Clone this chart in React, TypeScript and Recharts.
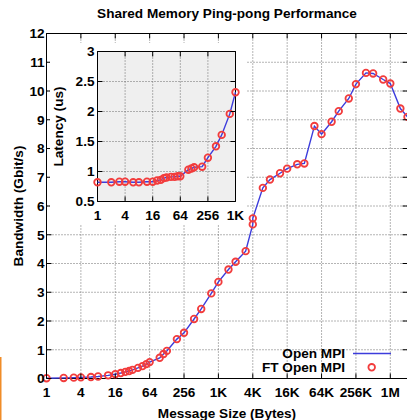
import { LineChart, Line, XAxis, YAxis, CartesianGrid, ReferenceArea } from 'recharts';

// message sizes in bytes (4K shows up twice in the original run)
const sizes = [
  1, 2, 3, 4, 6, 8, 12, 16, 20, 24, 28, 32, 40, 48, 56, 64, 96, 112, 128, 192, 256, 384, 512, 768, 1024,
  1536, 2048, 3072, 4096, 4096, 6144, 8192, 12288, 16384, 24576, 32768, 49152, 65536, 98304, 131072,
  196608, 262144, 393216, 524288, 786432, 1048576, 1572864, 2097152,
];

// bandwidth, Gbit/s
const openMpiBw = [
  0.01, 0.02, 0.03, 0.04, 0.05, 0.07, 0.11, 0.15, 0.19, 0.23, 0.26, 0.3, 0.37, 0.43, 0.5, 0.57, 0.72, 0.85, 0.96,
  1.37, 1.59, 2.07, 2.42, 2.96, 3.36, 3.79, 4.06, 4.43, 5.36, 5.57, 6.63, 6.92, 7.14, 7.3, 7.45, 7.48, 8.78, 8.5,
  8.93, 9.3, 9.74, 10.24, 10.63, 10.61, 10.4, 10.26, 9.39, 9.1,
];
const ftOpenMpiBw = [
  0.01, 0.02, 0.03, 0.04, 0.05, 0.07, 0.11, 0.15, 0.19, 0.23, 0.26, 0.3, 0.37, 0.43, 0.5, 0.57, 0.72, 0.85, 0.96,
  1.37, 1.59, 2.07, 2.42, 2.96, 3.36, 3.79, 4.06, 4.43, 5.36, 5.57, 6.63, 6.92, 7.14, 7.3, 7.45, 7.48, 8.78, 8.5,
  8.93, 9.3, 9.74, 10.24, 10.63, 10.61, 10.4, 10.26, 9.39, 9.1,
];

// inset: latency for the small messages (1 .. 1K)
const latencySizes = [1, 2, 3, 4, 6, 8, 12, 16, 20, 24, 28, 32, 40, 48, 56, 64, 96, 112, 128, 192, 256, 384, 512, 768, 1024];
const openMpiLat = [
  0.82, 0.82, 0.83, 0.83, 0.82, 0.82, 0.83, 0.83, 0.85, 0.86, 0.89, 0.9, 0.91, 0.91, 0.92, 0.92, 1.03, 1.05, 1.07,
  1.08, 1.23, 1.42, 1.61, 1.96, 2.32,
];
const ftOpenMpiLat = [
  0.82, 0.82, 0.83, 0.83, 0.82, 0.82, 0.83, 0.83, 0.85, 0.86, 0.89, 0.9, 0.91, 0.91, 0.92, 0.92, 1.03, 1.05, 1.07,
  1.08, 1.23, 1.42, 1.61, 1.96, 2.32,
];

const sizeTicks = [1, 4, 16, 64, 256, 1024, 4096, 16384, 65536, 262144, 1048576];
const latencySizeTicks = [1, 4, 16, 64, 256, 1024];
const bwTicks = [0, 1, 2, 3, 4, 5, 6, 7, 8, 9, 10, 11, 12];
const latTicks = [0.5, 1, 1.5, 2, 2.5, 3];

const bwData = sizes.map((size, i) => ({ size, open: openMpiBw[i], ft: ftOpenMpiBw[i] }));
const latData = latencySizes.map((size, i) => ({ size, open: openMpiLat[i], ft: ftOpenMpiLat[i] }));

const BLUE = '#3c3cdc';
const RED = '#f23c3c';
const font = { fontFamily: '"Liberation Sans", Arial, Helvetica, sans-serif', fontWeight: 700, fontSize: 13.6, fill: '#000' };

const fmtSize = (v) => (v >= 1048576 ? `${v / 1048576}M` : v >= 1024 ? `${v / 1024}K` : `${v}`);

// x tick: label under the axis, short ticks pointing inward at bottom and top
const xTick = (top) => (props) => {
  const { x, y, payload } = props;
  return (
    <g>
      <line x1={x} x2={x} y1={y} y2={y - 5} stroke="#000" />
      <line x1={x} x2={x} y1={top} y2={top + 5} stroke="#000" />
      <text x={x} y={y + 18} textAnchor="middle" style={font}>{fmtSize(payload.value)}</text>
    </g>
  );
};

const yTick = (gap, right) => (props) => {
  const { x, y, payload } = props;
  return (
    <g>
      <line x1={x + gap} x2={x + gap + 5} y1={y} y2={y} stroke="#000" />
      <line x1={right} x2={right - 5} y1={y} y2={y} stroke="#000" />
      <text x={x} y={y} dy="0.36em" textAnchor="end" style={font}>{payload.value}</text>
    </g>
  );
};

// axis title at a fixed spot; rot is the rotation in degrees
function AxisTitle({ px, py, rot, text }) {
  return (
    <text
      x={px}
      y={py}
      transform={rot ? `rotate(${rot} ${px} ${py})` : undefined}
      textAnchor="middle"
      dominantBaseline="central"
      style={font}
    >
      {text}
    </text>
  );
}

const ftDot = { r: 3.3, stroke: RED, strokeWidth: 1.8, fill: 'none' };

export default function App() {
  return (
    <div style={{ position: 'absolute', left: 0, top: 0, width: 407, height: 420, overflow: 'hidden', background: '#fff' }}>
      <div style={{ position: 'absolute', left: 0, top: 0 }}>
        <LineChart width={410} height={420} data={bwData} margin={{ top: 33.5, right: 2.5, bottom: 0, left: 0 }}>
          <CartesianGrid stroke="#6a6a6a" strokeDasharray="1 2" />
          <XAxis
            dataKey="size"
            type="number"
            scale="log"
            domain={[1, 2097152]}
            ticks={sizeTicks}
            interval={0}
            height={41.5}
            tickSize={0}
            tickMargin={0}
            tickLine={false}
            axisLine={false}
            tick={xTick(33.5)}
            label={<AxisTitle px={227} py={413} text="Message Size (Bytes)" />}
          />
          <YAxis
            type="number"
            domain={[0, 12]}
            ticks={bwTicks}
            interval={0}
            width={46.5}
            tickSize={0}
            tickMargin={2}
            tickLine={false}
            axisLine={false}
            tick={yTick(2, 407.5)}
            label={<AxisTitle px={18} py={206} rot={-90} text="Bandwidth (Gbit/s)" />}
          />
          <ReferenceArea x1={1} x2={2097152} y1={0} y2={12} fill="none" stroke="#000" strokeWidth={1} />
          <Line dataKey="open" stroke={BLUE} strokeWidth={1.4} dot={false} isAnimationActive={false} />
          <Line dataKey="ft" stroke="none" dot={ftDot} isAnimationActive={false} />
        </LineChart>
      </div>

      {/* inset: latency of small messages */}
      <div style={{ position: 'absolute', left: 50, top: 43, background: '#fff' }}>
        <LineChart width={196} height={182} data={latData} margin={{ top: 8.5, right: 10.5, bottom: 0, left: 0 }}>
          <CartesianGrid fill="#efefef" stroke="#6a6a6a" strokeDasharray="1 2" />
          <XAxis
            dataKey="size"
            type="number"
            scale="log"
            domain={[1, 1024]}
            ticks={latencySizeTicks}
            interval={0}
            height={23.5}
            tickSize={0}
            tickMargin={0}
            tickLine={false}
            axisLine={false}
            tick={xTick(8.5)}
          />
          <YAxis
            type="number"
            domain={[0.5, 3]}
            ticks={latTicks}
            interval={0}
            width={47.5}
            tickSize={0}
            tickMargin={3}
            tickLine={false}
            axisLine={false}
            tick={yTick(3, 185.5)}
            label={<AxisTitle px={8.5} py={83.5} rot={-90} text="Latency (us)" />}
          />
          <ReferenceArea x1={1} x2={1024} y1={0.5} y2={3} fill="none" stroke="#000" strokeWidth={1} />
          <Line dataKey="open" stroke={BLUE} strokeWidth={1.4} dot={false} isAnimationActive={false} />
          <Line dataKey="ft" stroke="none" dot={ftDot} isAnimationActive={false} />
        </LineChart>
      </div>

      {/* title and key */}
      <svg width={407} height={420} style={{ position: 'absolute', left: 0, top: 0, pointerEvents: 'none' }}>
        <text x={227} y={18} textAnchor="middle" style={font}>Shared Memory Ping-pong Performance</text>
        <text x={345} y={358} textAnchor="end" style={font}>Open MPI</text>
        <line x1={353} x2={391} y1={353.5} y2={353.5} stroke={BLUE} strokeWidth={1.4} />
        <text x={345} y={372} textAnchor="end" style={font}>FT Open MPI</text>
        <circle cx={371.7} cy={367.3} r={3.3} stroke={RED} strokeWidth={1.8} fill="none" />
        <rect x={0} y={357} width={1.5} height={63} fill="#f08c28" />
      </svg>
    </div>
  );
}
